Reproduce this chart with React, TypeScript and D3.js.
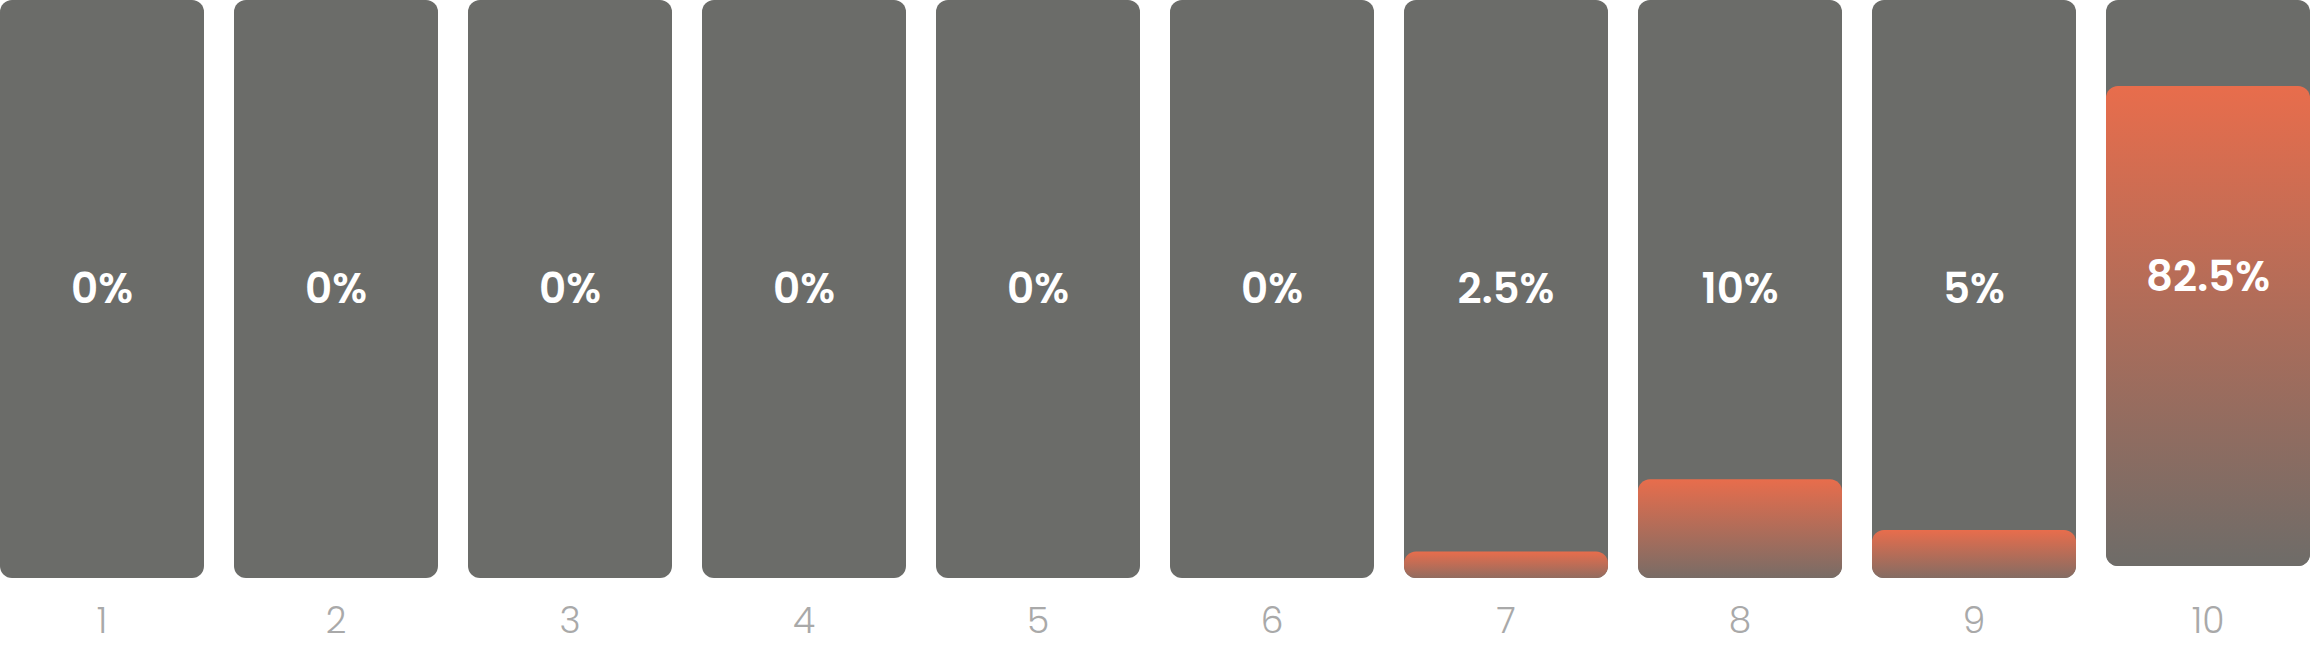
import { useEffect, useRef } from 'react';
import * as d3 from 'd3';

// ratings 1..10, share of answers (label) and fill level of each bar (% of its track)
const ratings = ['1', '2', '3', '4', '5', '6', '7', '8', '9', '10'];
const shareLabels = ['0%', '0%', '0%', '0%', '0%', '0%', '2.5%', '10%', '5%', '82.5%'];
const fillLevels = [0, 0, 0, 0, 0, 0, 4.6, 17.1, 8.3, 84.8];

const TRACK = '#6b6c69';
const ORANGE = '#e86d4c';

export default function App() {
	const ref = useRef<SVGSVGElement | null>(null);

	useEffect(() => {
		if (!ref.current) return;
		const svg = d3.select(ref.current);
		svg.selectAll('*').remove();

		const width = 2310;
		const height = 648;
		const trackBottom = 578;

		const x = d3
			.scaleBand<string>()
			.domain(ratings)
			.range([0, width])
			.paddingInner(30 / 234)
			.paddingOuter(0);

		// the last bar sits a little shorter in the original
		const bottomOf = (i: number) => (i === ratings.length - 1 ? trackBottom - 12 : trackBottom);

		const defs = svg.append('defs');
		const grad = defs
			.append('linearGradient')
			.attr('id', 'fillGrad')
			.attr('x1', 0)
			.attr('y1', 0)
			.attr('x2', 0)
			.attr('y2', 1);
		grad.append('stop').attr('offset', '0%').attr('stop-color', ORANGE);
		grad.append('stop').attr('offset', '100%').attr('stop-color', TRACK);

		ratings.forEach((r, i) => {
			defs
				.append('clipPath')
				.attr('id', `clip-${i}`)
				.append('rect')
				.attr('x', x(r)!)
				.attr('y', 0)
				.attr('width', x.bandwidth())
				.attr('height', bottomOf(i))
				.attr('rx', 12);
		});

		const bars = svg
			.selectAll('g.bar')
			.data(ratings)
			.join('g')
			.attr('class', 'bar');

		bars
			.append('rect')
			.attr('x', d => x(d)!)
			.attr('y', 0)
			.attr('width', x.bandwidth())
			.attr('height', (_, i) => bottomOf(i))
			.attr('rx', 12)
			.attr('fill', TRACK);

		bars.each(function (d, i) {
			if (fillLevels[i] <= 0) return;
			const y = d3.scaleLinear().domain([0, 100]).range([bottomOf(i), 0]);
			d3.select(this)
				.append('rect')
				.attr('clip-path', `url(#clip-${i})`)
				.attr('x', x(d)!)
				.attr('y', y(fillLevels[i]))
				.attr('width', x.bandwidth())
				.attr('height', y(0) - y(fillLevels[i]) + 12)
				.attr('rx', 12)
				.attr('fill', 'url(#fillGrad)');
		});

		bars
			.append('text')
			.attr('x', d => x(d)! + x.bandwidth() / 2)
			.attr('y', (_, i) => bottomOf(i) - 290)
			.attr('text-anchor', 'middle')
			.attr('dominant-baseline', 'central')
			.style('font-family', 'Poppins, Inter, "Open Sans", sans-serif')
			.style('font-weight', 600)
			.style('font-size', '42px')
			.style('fill', '#ffffff')
			.text((_, i) => shareLabels[i]);

		const axis = svg
			.append('g')
			.attr('transform', `translate(0, ${trackBottom})`)
			.call(d3.axisBottom(x).tickSize(0).tickPadding(29));
		axis.select('.domain').remove();
		axis
			.selectAll('text')
			.style('font-family', 'Poppins, Inter, Roboto, sans-serif')
			.style('font-weight', 300)
			.style('font-size', '36px')
			.style('fill', '#a9a9a9');

		svg.attr('width', width).attr('height', height);
	}, []);

	return (
		<svg
			ref={ref}
			width={2310}
			height={648}
			style={{ position: 'absolute', left: 0, top: 0, display: 'block' }}
		/>
	);
}
